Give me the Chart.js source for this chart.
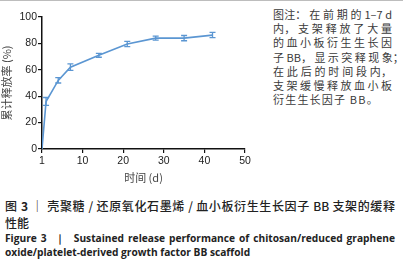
<!DOCTYPE html>
<html>
<head>
<meta charset="utf-8">
<script src="https://cdn.jsdelivr.net/npm/chart.js@4"></script>
<style>
    html, body { margin: 0; padding: 0; background: #fff; }
    body { width: 403px; height: 277px; position: relative; overflow: hidden; font-family: "Noto Sans CJK SC", "Noto Sans", sans-serif; }
    #topLine { position: absolute; left: 0; top: 0; width: 403px; height: 1px; background: #bdbdbd; }
    #chartBox { position: absolute; left: 0; top: 0; width: 255px; height: 184px; }
    #note { position: absolute; left: 273px; top: 7px; width: 119px; font-size: 11px; line-height: 14.2px; color: #3a3a3a; }
    #note span, #capCn span.j, #capEn span.j { display: block; white-space: nowrap; text-align: justify; text-align-last: justify; }
    #note span.last { text-align-last: left; letter-spacing: 1.2px; }
    #capCn { position: absolute; left: 5px; top: 197px; width: 390px; font-size: 12px; line-height: 17px; color: #222; font-weight: 500; }
    #capEn { position: absolute; left: 5px; top: 231px; width: 390px; font-family: "Open Sans", sans-serif; font-size: 10.2px; line-height: 14px; font-weight: bold; color: #222; white-space: nowrap; }
</style>
</head>
<body>
<div id="topLine"></div>
<div id="chartBox"><canvas id="releaseChart" width="255" height="184"></canvas></div>
<div id="note">
    <span>图注： 在 前 期 的 1–7 d</span>
    <span>内， 支 架 释 放 了 大 量</span>
    <span>的 血 小 板 衍 生 生 长 因</span>
    <span>子 BB， 显 示 突 释 现 象；</span>
    <span>在 此 后 的 时 间 段 内，</span>
    <span>支 架 缓 慢 释 放 血 小 板</span>
    <span class="last">衍生生长因子 BB。</span>
</div>
<div id="capCn"><span class="j">图 <b>3</b> ｜ 壳聚糖 / 还原氧化石墨烯 / 血小板衍生生长因子 BB 支架的缓释</span>性能</div>
<div id="capEn"><span class="j">Figure 3 &nbsp;｜ &nbsp;Sustained release performance of chitosan/reduced graphene</span>oxide/platelet-derived growth factor BB scaffold</div>

<script>
// days (origin of the axis is labelled "1")
const days = [0, 1, 4, 7, 14, 21, 28, 35, 42];
const releaseRate = [0, 36, 52, 62, 71, 79.5, 84, 84, 86.3];
const errorBars = [0, 3, 2, 2.5, 1.5, 2, 1.5, 2, 2];
const xTickValues = [0, 10, 20, 30, 40, 50];
const xTickLabels = ['1', '10', '20', '30', '40', '50'];
const yTickValues = [0, 20, 40, 60, 80, 100];

const lineColor = 'rgb(91, 150, 210)';

// Draw error bars with caps
const errorBarPlugin = {
    id: 'errorBarPlugin',
    afterDatasetsDraw: function(chart) {
        const ctx = chart.ctx;
        const xs = chart.scales.x;
        const ys = chart.scales.y;
        ctx.save();
        ctx.strokeStyle = lineColor;
        ctx.lineWidth = 1.3;
        for (let i = 0; i < days.length; i++) {
            if (!errorBars[i]) continue;
            const x = xs.getPixelForValue(days[i]);
            const yTop = ys.getPixelForValue(releaseRate[i] + errorBars[i]);
            const yBot = ys.getPixelForValue(releaseRate[i] - errorBars[i]);
            ctx.beginPath();
            ctx.moveTo(x, yTop); ctx.lineTo(x, yBot);
            ctx.moveTo(x - 3, yTop); ctx.lineTo(x + 3, yTop);
            ctx.moveTo(x - 3, yBot); ctx.lineTo(x + 3, yBot);
            ctx.stroke();
        }
        ctx.restore();
    }
};

const ctx = document.getElementById('releaseChart').getContext('2d');
new Chart(ctx, {
    type: 'line',
    data: {
        datasets: [{
            data: days.map((d, i) => ({ x: d, y: releaseRate[i] })),
            borderColor: lineColor,
            borderWidth: 1.6,
            pointRadius: 0,
            fill: false,
            tension: 0
        }]
    },
    options: {
        responsive: false,
        animation: false,
        layout: { padding: { top: 17, right: 10, left: 0, bottom: 0 } },
        scales: {
            x: {
                type: 'linear',
                min: 0,
                max: 50,
                afterBuildTicks: function(scale) {
                    scale.ticks = xTickValues.map(v => ({ value: v }));
                },
                afterFit: function(scale) { scale.height = 35; },
                ticks: {
                    autoSkip: false,
                    maxRotation: 0,
                    padding: 2,
                    color: '#222',
                    font: { family: 'Liberation Sans', size: 10.5 },
                    callback: function(value) {
                        const idx = xTickValues.indexOf(value);
                        return idx >= 0 ? xTickLabels[idx] : '';
                    }
                },
                grid: { drawOnChartArea: false, drawTicks: true, tickLength: 4, color: '#111', lineWidth: 1.2 },
                border: { color: '#111', width: 1.5 },
                title: {
                    display: true,
                    text: '时间 (d)',
                    color: '#444',
                    font: { family: 'Noto Sans CJK SC', size: 11 },
                    padding: { top: 0, bottom: 0 }
                }
            },
            y: {
                min: 0,
                max: 100,
                afterBuildTicks: function(scale) {
                    scale.ticks = yTickValues.map(v => ({ value: v }));
                },
                afterFit: function(scale) { scale.width = 42; },
                ticks: {
                    padding: 1,
                    color: '#222',
                    font: { family: 'Liberation Sans', size: 10.5 }
                },
                grid: { drawOnChartArea: false, drawTicks: true, tickLength: 4, color: '#111', lineWidth: 1.2 },
                border: { color: '#111', width: 1.5 },
                title: {
                    display: true,
                    text: '累计释放率 (%)',
                    color: '#444',
                    font: { family: 'Noto Sans CJK SC', size: 11 },
                    padding: { top: 0, bottom: 0 }
                }
            }
        },
        plugins: {
            legend: { display: false },
            tooltip: { enabled: false }
        }
    },
    plugins: [errorBarPlugin]
});
</script>
</body>
</html>
